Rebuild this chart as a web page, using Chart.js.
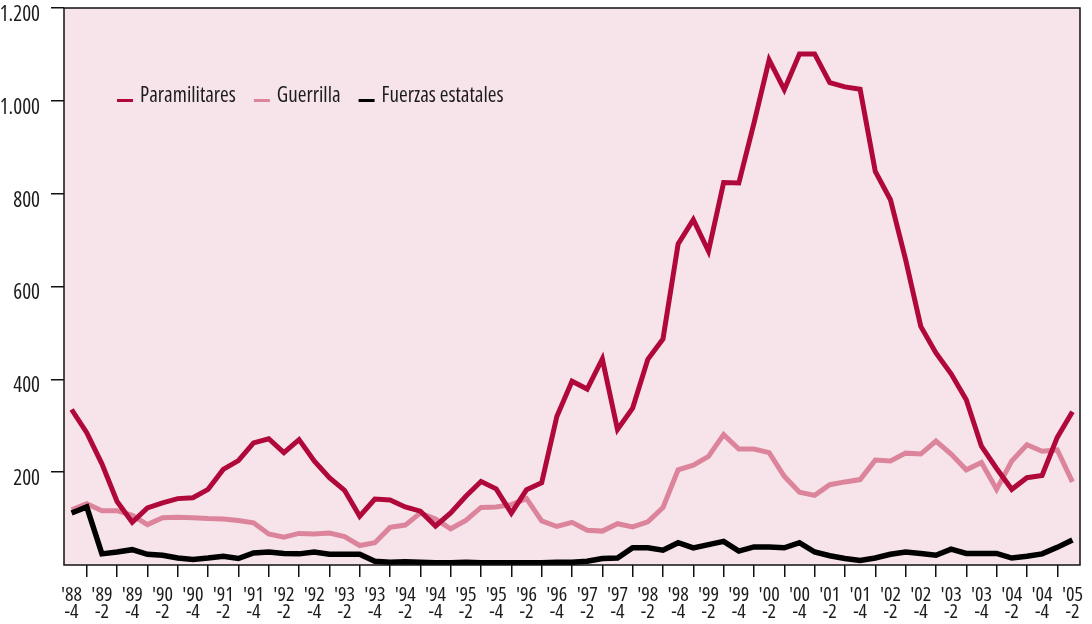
<!DOCTYPE html>
<html>
<head>
<meta charset="utf-8">
<script src="https://cdn.jsdelivr.net/npm/chart.js@4/dist/chart.umd.min.js"></script>
<style>
  body { margin: 0; background: #fff; }
  #wrap { width: 1092px; height: 624px; }
</style>
</head>
<body>
<div id="wrap"><canvas id="grafico"></canvas></div>
<script>
// trimestres, de '88-4 a '05-2
const quarters = [
    "'88-4",
    "'89-1", "'89-2", "'89-3", "'89-4",
    "'90-1", "'90-2", "'90-3", "'90-4",
    "'91-1", "'91-2", "'91-3", "'91-4",
    "'92-1", "'92-2", "'92-3", "'92-4",
    "'93-1", "'93-2", "'93-3", "'93-4",
    "'94-1", "'94-2", "'94-3", "'94-4",
    "'95-1", "'95-2", "'95-3", "'95-4",
    "'96-1", "'96-2", "'96-3", "'96-4",
    "'97-1", "'97-2", "'97-3", "'97-4",
    "'98-1", "'98-2", "'98-3", "'98-4",
    "'99-1", "'99-2", "'99-3", "'99-4",
    "'00-1", "'00-2", "'00-3", "'00-4",
    "'01-1", "'01-2", "'01-3", "'01-4",
    "'02-1", "'02-2", "'02-3", "'02-4",
    "'03-1", "'03-2", "'03-3", "'03-4",
    "'04-1", "'04-2", "'04-3", "'04-4",
    "'05-1", "'05-2"
];

const paramilitares = [335, 285, 218, 137, 92, 123, 134, 143, 145, 163,
    206, 225, 263, 272, 242, 270, 224, 188, 161, 105,
    142, 140, 125, 116, 84, 112, 148, 180, 164, 112,
    162, 177, 320, 396, 379, 444, 292, 338, 443, 487,
    692, 744, 676, 824, 823, 952, 1088, 1024, 1101, 1101,
    1039, 1030, 1025, 848, 787, 658, 514, 457, 412, 356,
    256, 208, 163, 188, 193, 275, 330];

const guerrilla = [119, 132, 117, 117, 107, 87, 102, 103, 102, 100,
    99, 96, 91, 67, 60, 68, 67, 69, 61, 42,
    48, 81, 86, 112, 99, 78, 96, 124, 125, 130,
    143, 95, 83, 92, 75, 73, 89, 82, 93, 124,
    205, 215, 234, 281, 250, 250, 242, 191, 157, 150,
    173, 179, 184, 226, 224, 241, 239, 267, 239, 205,
    221, 163, 224, 259, 245, 248, 179];

const fuerzasEstatales = [112, 125, 24, 28, 33, 23, 21, 15, 12, 15,
    19, 14, 26, 28, 25, 24, 28, 23, 23, 23,
    8, 6, 7, 6, 5, 5, 6, 5, 5, 5,
    5, 5, 6, 6, 8, 14, 15, 37, 37, 32,
    48, 37, 44, 51, 30, 39, 39, 37, 48, 28,
    20, 14, 10, 15, 23, 28, 25, 21, 34, 25,
    25, 25, 15, 19, 24, 38, 54];

const yTicks = [200, 400, 600, 800, 1000, 1200];

const FAMILY = "'Open Sans', 'Roboto Condensed', sans-serif";
const STRETCH = "condensed";
const TEXT = "#1c1c1c";

// fondo rosado y marco del area de trazado
const marco = {
    id: "marco",
    beforeDraw(chart) {
        const a = chart.chartArea, ctx = chart.ctx;
        ctx.save();
        ctx.fillStyle = "#f6e4ea";
        ctx.fillRect(a.left, a.top, a.right - a.left, a.bottom - a.top);
        ctx.restore();
    },
    afterDraw(chart) {
        const a = chart.chartArea, ctx = chart.ctx;
        ctx.save();
        ctx.strokeStyle = "#111";
        ctx.lineWidth = 1.5;
        ctx.strokeRect(a.left, a.top, a.right - a.left, a.bottom - a.top);
        ctx.restore();
    }
};

// leyenda dentro del grafico
const leyenda = {
    id: "leyenda",
    afterDraw(chart) {
        const ctx = chart.ctx;
        ctx.save();
        ctx.font = STRETCH + " 500 21px " + FAMILY;
        ctx.textBaseline = "alphabetic";
        let x = chart.chartArea.left + 53;
        const y = 102;
        chart.data.datasets.forEach(ds => {
            ctx.fillStyle = ds.borderColor;
            ctx.fillRect(x, y - 3, 16, 3);
            x += 23;
            ctx.fillStyle = TEXT;
            ctx.fillText(ds.label, x, y);
            x += ctx.measureText(ds.label).width + 18;
        });
        ctx.restore();
    }
};

new Chart(document.getElementById("grafico"), {
    type: "line",
    data: {
        labels: quarters,
        datasets: [
            { label: "Paramilitares", data: paramilitares, borderColor: "#b0083a", borderWidth: 5, order: 1 },
            { label: "Guerrilla", data: guerrilla, borderColor: "#dc849b", borderWidth: 5, order: 2 },
            { label: "Fuerzas estatales", data: fuerzasEstatales, borderColor: "#000000", borderWidth: 5.5, order: 0 }
        ]
    },
    options: {
        responsive: true,
        maintainAspectRatio: false,
        animation: false,
        layout: { padding: { top: 8, right: 12, left: 0, bottom: 0 } },
        elements: {
            line: { tension: 0, borderJoinStyle: "miter", fill: false },
            point: { radius: 0 }
        },
        plugins: {
            legend: { display: false },
            tooltip: { enabled: false }
        },
        scales: {
            x: {
                type: "category",
                offset: true,
                border: { display: false },
                grid: {
                    offset: true,
                    drawOnChartArea: false,
                    tickLength: 12,
                    color: "#111",
                    lineWidth: 1.5
                },
                ticks: {
                    autoSkip: false,
                    maxRotation: 0,
                    padding: 10,
                    color: TEXT,
                    font: { family: FAMILY, size: 20, weight: STRETCH + " 500", lineHeight: 0.85 },
                    callback: function (v, i) {
                        if (i % 2 !== 0) return null;
                        const q = quarters[i];
                        return [q.slice(0, 3), q.slice(3)];
                    }
                },
                afterFit(scale) {
                    scale.height = 59;
                    scale.paddingLeft = 0;
                    scale.paddingRight = 0;
                }
            },
            y: {
                min: 0,
                max: 1200,
                border: { display: false },
                grid: {
                    drawOnChartArea: false,
                    tickLength: 13,
                    color: "#111",
                    lineWidth: 1.5
                },
                afterBuildTicks(scale) {
                    scale.ticks = [0].concat(yTicks).map(v => ({ value: v }));
                },
                ticks: {
                    padding: 11,
                    labelOffset: 7,
                    color: TEXT,
                    font: { family: FAMILY, size: 21, weight: STRETCH + " 500" },
                    callback: function (v) {
                        if (v === 0) return null;
                        return v >= 1000 ? Math.floor(v / 1000) + "." + String(v % 1000).padStart(3, "0") : String(v);
                    }
                },
                afterFit(scale) {
                    scale.width = 64;
                    scale.paddingTop = 0;
                    scale.paddingBottom = 0;
                }
            }
        }
    },
    plugins: [marco, leyenda]
});
</script>
</body>
</html>
